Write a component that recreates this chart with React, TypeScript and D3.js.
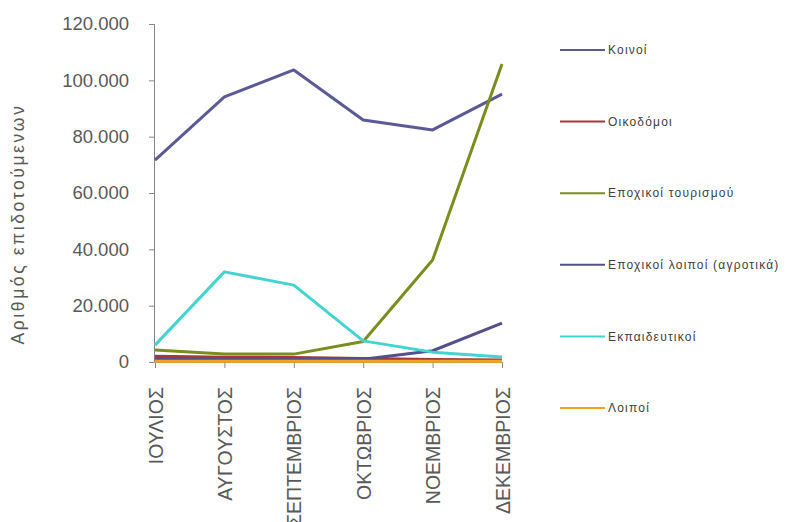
import React from "react";
import * as d3 from "d3";

const months = ["ΙΟΥΛΙΟΣ", "ΑΥΓΟΥΣΤΟΣ", "ΣΕΠΤΕΜΒΡΙΟΣ", "ΟΚΤΩΒΡΙΟΣ", "ΝΟΕΜΒΡΙΟΣ", "ΔΕΚΕΜΒΡΙΟΣ"];
const seriesNames = ["Κοινοί", "Οικοδόμοι", "Εποχικοί τουρισμού", "Εποχικοί λοιποί (αγροτικά)", "Εκπαιδευτικοί", "Λοιποί"];
const koinoi = [71700, 94100, 103700, 85900, 82400, 95100];
const oikodomoi = [2000, 1700, 1600, 1200, 900, 700];
const tourismou = [4300, 2800, 2800, 7300, 36200, 105800];
const agrotika = [1200, 1100, 1100, 1000, 4000, 13800];
const ekpaideutikoi = [6000, 32000, 27300, 7500, 3500, 1800];
const loipoi = [300, 300, 300, 300, 300, 300];
const yTicks = [0, 20000, 40000, 60000, 80000, 100000, 120000];
const colors = ["#5b5a97", "#a3373a", "#7b8d1e", "#53508c", "#45d3d0", "#f3a21d"];

const allSeries = [koinoi, oikodomoi, tourismou, agrotika, ekpaideutikoi, loipoi];

const fmt = (v: number) => (v === 0 ? "0" : d3.format(",")(v).replace(/,/g, "."));

export default function App() {
  const W = 787, H = 522;
  const x = d3.scalePoint<string>().domain(months).range([155, 502]);
  const y = d3.scaleLinear().domain([0, 120000]).range([362, 24]);
  const line = d3.line<number>().x((_, i) => x(months[i])!).y((d) => y(d));
  const legendY = d3.scalePoint<string>().domain(seriesNames).range([50, 408]);
  const axisColor = "#868686";
  const textColor = "#595959";
  return (
    <svg width={W} height={H} style={{ position: "absolute", left: 0, top: 0, background: "#fff" }}
      fontFamily="'Liberation Sans', Arial, sans-serif">
      {/* y axis */}
      <line x1={154.5} x2={154.5} y1={y(120000)} y2={y(0)} stroke={axisColor} strokeWidth={1} />
      {yTicks.map((t) => (
        <g key={t}>
          <line x1={149} x2={154.5} y1={y(t) + 0.5} y2={y(t) + 0.5} stroke={axisColor} />
          <text x={129} y={y(t)} dy="0.35em" textAnchor="end" fontSize={18.5} fill={textColor}>{fmt(t)}</text>
        </g>
      ))}
      <text transform={`translate(24,224) rotate(-90)`} textAnchor="middle" fontSize={17.5} letterSpacing={2.6} fill={textColor}>
        Αριθμός επιδοτούμενων
      </text>
      {/* x axis */}
      <line x1={154.5} x2={x(months[months.length - 1])! + 0.5} y1={362.5} y2={362.5} stroke={axisColor} />
      {months.map((m) => (
        <g key={m}>
          <line x1={x(m)! + 0.5} x2={x(m)! + 0.5} y1={362.5} y2={368} stroke={axisColor} />
          <text transform={`translate(${x(m)! + 7.5},387) rotate(-90)`} textAnchor="end" fontSize={19.5} fill={textColor}>{m}</text>
        </g>
      ))}
      {/* lines */}
      {allSeries.map((s, i) => (
        <path key={i} d={line(s)!} fill="none" stroke={colors[i]} strokeWidth={3} strokeLinejoin="round" />
      ))}
      {/* legend */}
      {seriesNames.map((n, i) => (
        <g key={n}>
          <line x1={560} x2={605} y1={legendY(n)!} y2={legendY(n)!} stroke={colors[i]} strokeWidth={2} />
          <text x={608} y={legendY(n)!} dy="0.35em" fontSize={12} letterSpacing={1.2} fill="#404040">{n}</text>
        </g>
      ))}
    </svg>
  );
}
